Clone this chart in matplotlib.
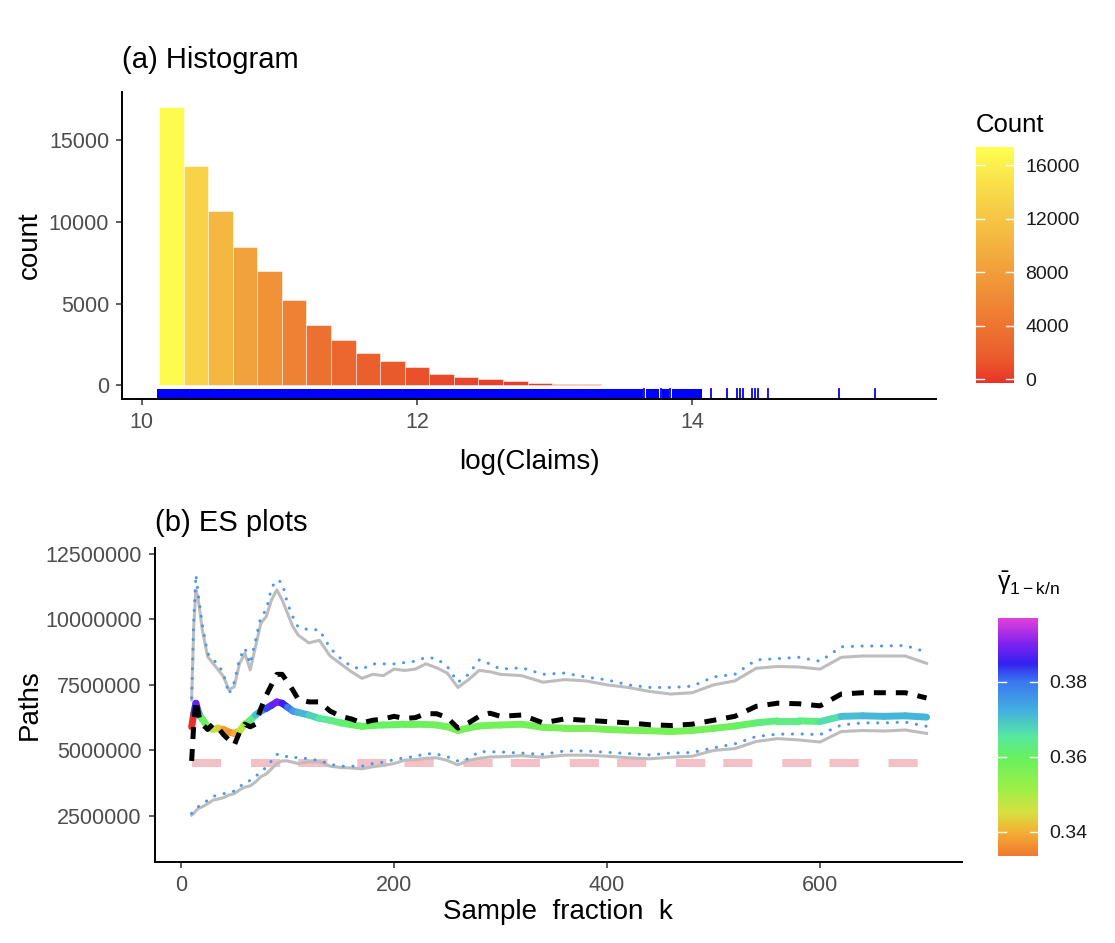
import numpy as np
import matplotlib
matplotlib.use("Agg")
import matplotlib.pyplot as plt
import matplotlib.transforms as mtransforms
from matplotlib.colors import LinearSegmentedColormap, Normalize
from matplotlib.collections import LineCollection
from matplotlib.cm import ScalarMappable
from matplotlib import font_manager

plt.rcParams['font.family'] = ['Liberation Sans', 'DejaVu Sans']
plt.rcParams['mathtext.fontset'] = 'custom'
plt.rcParams['mathtext.rm'] = 'Liberation Sans'
plt.rcParams['mathtext.it'] = 'Liberation Sans:italic'
plt.rcParams['lines.scale_dashes'] = False

# narrow face for tick labels if the system has it
names = {f.name for f in font_manager.fontManager.ttflist}
narrow = 'Liberation Sans Narrow' in names
tick_family = ['Liberation Sans Narrow'] if narrow else ['Liberation Sans']
tick_size = 17 if narrow else 15.5

# ---------------- (a) histogram data ----------------
bin_start = 10.126
bin_width = 0.1785
hist_counts = [17052, 13398, 10678, 8445, 6983, 5217, 3695, 2781, 1969, 1482,
               1096, 711, 528, 386, 250, 160, 95, 55, 30, 18,
               12, 8, 5, 4, 4, 0, 0, 1, 0, 1]
# rug: solid stretches (dense claims) and isolated claims
rug_blocks = [(10.11, 13.644), (13.661, 13.761), (13.778, 13.833), (13.850, 14.07)]
rug_ticks = [13.652, 13.769, 13.841, 14.136, 14.250, 14.323, 14.347, 14.366,
             14.431, 14.455, 14.479, 14.552, 15.068, 15.327]

# ---------------- (b) ES paths data (values in millions) ----------------
k = [10, 12, 14, 16, 18, 20, 25, 30, 35, 40, 45, 50, 55, 60, 65, 70, 75, 80, 85, 90,
     95, 100, 105, 110, 120, 130, 140, 150, 160, 170, 180, 190, 200, 210, 220, 230,
     240, 250, 260, 270, 280, 290, 300, 320, 340, 360, 380, 400, 420, 440, 460, 480,
     500, 520, 540, 560, 580, 600, 620, 640, 660, 680, 700]
upper_grey = [6.93, 9.72, 11.12, 10.8, 10.23, 9.59, 8.58, 8.32, 8.07, 7.81, 7.31, 7.43,
              8.32, 8.70, 8.07, 8.96, 9.85, 10.1, 10.74, 11.12, 10.74, 10.23, 9.72, 9.4,
              9.1, 9.2, 8.6, 8.3, 8.0, 7.75, 7.9, 7.85, 8.1, 8.05, 8.1, 8.3, 8.15, 7.95,
              7.4, 7.7, 8.05, 8.0, 7.9, 7.85, 7.6, 7.7, 7.65, 7.5, 7.4, 7.25, 7.15, 7.2,
              7.5, 7.65, 8.13, 8.2, 8.18, 8.1, 8.55, 8.6, 8.6, 8.6, 8.32]
upper_blue = [7.0, 10.0, 11.7, 11.0, 10.4, 9.8, 8.7, 8.45, 8.3, 7.9, 7.15, 7.6, 8.5,
              8.9, 8.3, 9.2, 10.1, 10.35, 11.2, 11.5, 11.4, 10.6, 10.1, 9.7, 9.6, 9.6,
              8.9, 8.5, 8.2, 8.1, 8.3, 8.3, 8.3, 8.35, 8.4, 8.55, 8.5, 8.2, 7.6, 7.9,
              8.45, 8.3, 8.1, 8.15, 7.9, 7.95, 7.8, 7.69, 7.5, 7.4, 7.4, 7.45, 7.8, 7.9,
              8.45, 8.5, 8.55, 8.4, 8.95, 8.98, 8.98, 9.0, 8.75]
es_dashed = [4.6, 6.0, 6.9, 6.5, 6.1, 6.0, 5.8, 6.0, 5.85, 5.6, 5.4, 5.2, 5.7, 6.0,
             5.9, 6.0, 6.6, 7.1, 7.5, 7.9, 7.9, 7.6, 7.3, 6.95, 6.85, 6.85, 6.5, 6.3,
             6.2, 6.05, 6.15, 6.2, 6.3, 6.22, 6.25, 6.4, 6.4, 6.25, 5.85, 6.05, 6.3,
             6.42, 6.3, 6.35, 6.05, 6.2, 6.15, 6.1, 6.05, 5.98, 5.95, 6.0, 6.15, 6.3,
             6.68, 6.8, 6.78, 6.7, 7.15, 7.2, 7.2, 7.2, 7.0]
es_gamma = [5.9, 6.4, 6.8, 6.5, 6.3, 6.2, 5.9, 5.8, 5.85, 5.8, 5.7, 5.65, 5.75, 6.0,
            6.15, 6.35, 6.5, 6.6, 6.72, 6.85, 6.8, 6.65, 6.5, 6.45, 6.35, 6.22, 6.15,
            6.05, 5.98, 5.92, 5.95, 5.97, 5.98, 6.0, 6.0, 5.99, 5.97, 5.9, 5.76, 5.86,
            5.93, 5.96, 5.97, 6.0, 5.88, 5.85, 5.85, 5.8, 5.77, 5.75, 5.72, 5.76, 5.84,
            5.93, 6.05, 6.13, 6.13, 6.1, 6.3, 6.32, 6.3, 6.32, 6.27]
gamma_bar = [0.330, 0.375, 0.392, 0.385, 0.370, 0.362, 0.357, 0.352, 0.345, 0.340,
             0.336, 0.337, 0.343, 0.352, 0.360, 0.367, 0.374, 0.380, 0.386, 0.390,
             0.388, 0.382, 0.377, 0.373, 0.370, 0.366, 0.364, 0.362, 0.361, 0.360,
             0.360, 0.360, 0.360, 0.360, 0.359, 0.359, 0.359, 0.358, 0.357, 0.358,
             0.358, 0.358, 0.358, 0.358, 0.358, 0.357, 0.357, 0.357, 0.357, 0.357,
             0.357, 0.357, 0.358, 0.359, 0.362, 0.363, 0.363, 0.363, 0.370, 0.371,
             0.371, 0.372, 0.371]
lower_grey = [2.54, 2.6, 2.7, 2.78, 2.82, 2.85, 2.97, 3.1, 3.15, 3.2, 3.3, 3.35, 3.5,
              3.6, 3.65, 3.8, 4.0, 4.1, 4.3, 4.5, 4.6, 4.6, 4.55, 4.5, 4.57, 4.57, 4.4,
              4.35, 4.33, 4.3, 4.38, 4.43, 4.5, 4.63, 4.65, 4.7, 4.72, 4.62, 4.45, 4.62,
              4.7, 4.75, 4.76, 4.8, 4.74, 4.82, 4.82, 4.78, 4.72, 4.68, 4.74, 4.78, 5.0,
              5.07, 5.34, 5.45, 5.4, 5.32, 5.72, 5.76, 5.74, 5.78, 5.65]
lower_blue = [2.6, 2.68, 2.78, 2.85, 2.9, 2.95, 3.1, 3.25, 3.3, 3.35, 3.4, 3.45, 3.6,
              3.8, 3.85, 4.0, 4.2, 4.35, 4.6, 4.85, 4.85, 4.75, 4.7, 4.75, 4.67, 4.62,
              4.47, 4.4, 4.4, 4.4, 4.5, 4.55, 4.65, 4.72, 4.77, 4.88, 4.86, 4.76, 4.6,
              4.68, 4.96, 4.95, 4.94, 4.9, 4.85, 4.98, 4.98, 4.93, 4.88, 4.83, 4.9,
              4.92, 5.1, 5.25, 5.53, 5.62, 5.63, 5.6, 5.97, 6.05, 6.05, 6.08, 5.92]
ref_level = 4.535

# ---------------- colour maps ----------------
count_cmap = LinearSegmentedColormap.from_list('count', [
    (0.0, '#e83228'), (0.1, '#ea5a2c'), (0.3, '#ee7f33'), (0.5, '#f2a33c'),
    (0.7, '#f6c645'), (0.85, '#f9e04a'), (1.0, '#ffff50')])
gamma_cmap = LinearSegmentedColormap.from_list('gamma', [
    (0.0, '#f07a30'), (0.10, '#f3b034'), (0.18, '#d8e040'), (0.29, '#98f048'),
    (0.417, '#66f060'), (0.50, '#58e8a0'), (0.61, '#44b0e0'), (0.733, '#3a78f0'),
    (0.81, '#3322f0'), (0.895, '#8022f0'), (1.0, '#e040d8')])
gamma_cmap.set_under('#e8302a')

fig = plt.figure(figsize=(11.15, 9.43), dpi=100)
W, H = 1115.0, 943.0

def style_axes(ax):
    for s in ['top', 'right']:
        ax.spines[s].set_visible(False)
    for s in ['left', 'bottom']:
        ax.spines[s].set_linewidth(1.4)
        ax.spines[s].set_color('black')
    ax.tick_params(length=4.5, width=1.1, color='#333333', labelsize=tick_size,
                   labelcolor='#4d4d4d', pad=5)

def narrow_ticks(ax):
    for lab in ax.get_xticklabels() + ax.get_yticklabels():
        lab.set_family(tick_family)

# ---------------- (a) ----------------
ax1 = fig.add_axes([122.3 / W, 1 - 399.3 / H, (936 - 122.3) / W, (399.3 - 91.7) / H])
style_axes(ax1)
cnorm = Normalize(-300, 17400)
edges = bin_start + bin_width * np.arange(len(hist_counts))
ax1.bar(edges, hist_counts, width=bin_width, align='edge',
        color=count_cmap(cnorm(np.array(hist_counts))), edgecolor=(1, 1, 1, 0.6),
        linewidth=0.6)
for a, b in rug_blocks:
    ax1.axvspan(a, b, ymin=0, ymax=0.033, color='blue', lw=0)
for v in rug_ticks:
    ax1.axvline(v, 0, 0.033, color='blue', lw=1.3)
ax1.set_xlim(9.859, 15.770)
ax1.set_ylim(-856, 17971)
ax1.set_xticks([10, 12, 14])
ax1.set_yticks([0, 5000, 10000, 15000])
narrow_ticks(ax1)

fig.text(122.3 / W, 1 - 68.5 / H, '(a) Histogram', fontsize=21, va='baseline', ha='left')
fig.text(30 / W, 1 - 245.5 / H, 'count', fontsize=20, rotation=90, va='center', ha='center')
fig.text(529 / W, 1 - 462 / H, 'log(Claims)', fontsize=20, va='center', ha='center')

cax1 = fig.add_axes([976 / W, 1 - 383.3 / H, 38 / W, 236.6 / H])
cb1 = fig.colorbar(ScalarMappable(norm=cnorm, cmap=count_cmap), cax=cax1)
cb1.outline.set_visible(False)
cticks = [0, 4000, 8000, 12000, 16000]
cb1.set_ticks(cticks)
cax1.tick_params(length=0, pad=8, labelsize=14, labelcolor='#1a1a1a')
tr1 = mtransforms.blended_transform_factory(cax1.transAxes, cax1.transData)
for t in cticks:
    cax1.plot([0, 0.2], [t, t], transform=tr1, color='white', lw=1)
    cax1.plot([0.8, 1], [t, t], transform=tr1, color='white', lw=1)
fig.text(976 / W, 1 - 132 / H, 'Count', fontsize=18.5, va='baseline', ha='left')

# ---------------- (b) ----------------
ax2 = fig.add_axes([155 / W, 1 - 862 / H, (962 - 155) / W, (862 - 548) / H])
style_axes(ax2)
kk = np.array(k)
m = 1e6
ax2.plot([kk[0], kk[-1]], [ref_level * m, ref_level * m], color='#f4c0c8',
         lw=5.8, dashes=(21, 21.5, 21, 13), solid_capstyle='butt', zorder=1)
ax2.plot(kk, np.array(upper_grey) * m, color='#bdbdbd', lw=2.2, zorder=2)
ax2.plot(kk, np.array(lower_grey) * m, color='#bdbdbd', lw=2.2, zorder=2)
for ser in (upper_blue, lower_blue):
    ln, = ax2.plot(kk, np.array(ser) * m, color='#4a98f0', lw=2.2,
                   dashes=(0.1, 6.9), zorder=3)
    ln.set_dash_capstyle('round')
gnorm = Normalize(0.3336, 0.3969)
pts = np.column_stack([kk, np.array(es_gamma) * m])
segs = np.stack([pts[:-1], pts[1:]], axis=1)
gmid = (np.array(gamma_bar[:-1]) + np.array(gamma_bar[1:])) / 2
gmid[0] = gamma_bar[0]
lc = LineCollection(segs, colors=gamma_cmap(gnorm(gmid)), linewidths=5.0,
                    capstyle='round', zorder=4)
ax2.add_collection(lc)
dl, = ax2.plot(kk, np.array(es_dashed) * m, color='black', lw=3.6,
               dashes=(8.6, 7.2), zorder=5)
ax2.set_xlim(-24.4, 733.3)
ax2.set_ylim(0.747e6, 12.717e6)
ax2.set_xticks([0, 200, 400, 600])
ax2.set_yticks([2.5e6, 5e6, 7.5e6, 10e6, 12.5e6])
ax2.set_yticklabels(['2500000', '5000000', '7500000', '10000000', '12500000'])
narrow_ticks(ax2)

fig.text(155 / W, 1 - 531 / H, '(b) ES plots', fontsize=21, va='baseline', ha='left')
fig.text(30 / W, 1 - 705 / H, 'Paths', fontsize=20, rotation=90, va='center', ha='center')
fig.text(558 / W, 1 - 912 / H, 'Sample  fraction  k', fontsize=20, va='center', ha='center')

cax2 = fig.add_axes([997.7 / W, 1 - 855.7 / H, 40 / W, 237.4 / H])
cb2 = fig.colorbar(ScalarMappable(norm=gnorm, cmap=gamma_cmap), cax=cax2)
cb2.outline.set_visible(False)
gticks = [0.34, 0.36, 0.38]
cb2.set_ticks(gticks)
cb2.set_ticklabels(['0.34', '0.36', '0.38'])
cax2.tick_params(length=0, pad=8, labelsize=14, labelcolor='#1a1a1a')
tr2 = mtransforms.blended_transform_factory(cax2.transAxes, cax2.transData)
for t in gticks:
    cax2.plot([0, 0.2], [t, t], transform=tr2, color='white', lw=1)
    cax2.plot([0.8, 1], [t, t], transform=tr2, color='white', lw=1)
fig.text(997 / W, 1 - 590 / H, r'$\bar{\mathrm{\gamma}}_{\mathrm{1-k/n}}$', fontsize=18,
         va='baseline', ha='left')

fig.savefig('out.png', dpi=100)
